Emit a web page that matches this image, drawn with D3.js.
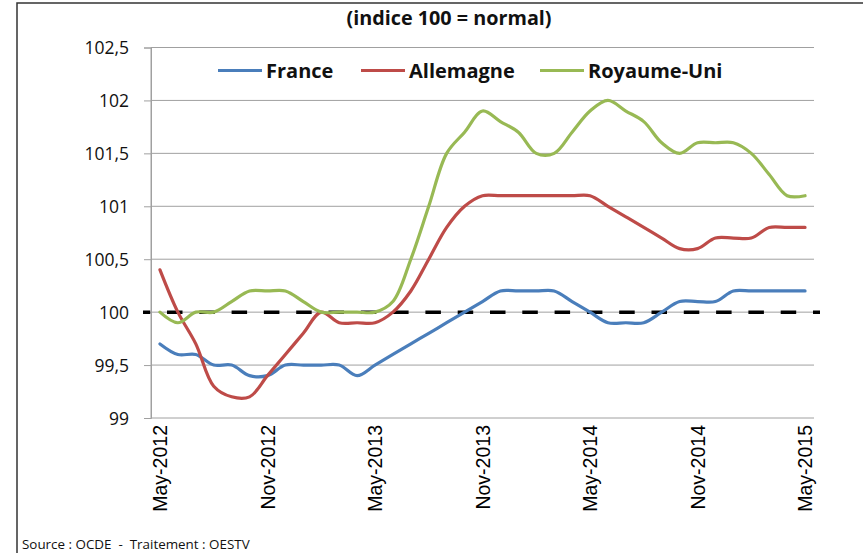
<!DOCTYPE html>
<html><head><meta charset="utf-8">
<script src="https://cdn.jsdelivr.net/npm/d3@7"></script>
<style>html,body{margin:0;padding:0;background:#fff;}svg{display:block;}</style>
</head><body>
<script>
const months = ["May-2012","Jun-2012","Jul-2012","Aug-2012","Sep-2012","Oct-2012","Nov-2012","Dec-2012",
"Jan-2013","Feb-2013","Mar-2013","Apr-2013","May-2013","Jun-2013","Jul-2013","Aug-2013","Sep-2013","Oct-2013",
"Nov-2013","Dec-2013","Jan-2014","Feb-2014","Mar-2014","Apr-2014","May-2014","Jun-2014","Jul-2014","Aug-2014",
"Sep-2014","Oct-2014","Nov-2014","Dec-2014","Jan-2015","Feb-2015","Mar-2015","Apr-2015","May-2015"];
const france = [99.7,99.6,99.6,99.5,99.5,99.4,99.4,99.5,99.5,99.5,99.5,99.4,99.5,99.6,99.7,99.8,99.9,100.0,
100.1,100.2,100.2,100.2,100.2,100.1,100.0,99.9,99.9,99.9,100.0,100.1,100.1,100.1,100.2,100.2,100.2,100.2,100.2];
const allemagne = [100.4,100.0,99.7,99.3,99.2,99.2,99.4,99.6,99.8,100.0,99.9,99.9,99.9,100.0,100.2,100.5,100.8,101.0,
101.1,101.1,101.1,101.1,101.1,101.1,101.1,101.0,100.9,100.8,100.7,100.6,100.6,100.7,100.7,100.7,100.8,100.8,100.8];
const royaumeUni = [100.0,99.9,100.0,100.0,100.1,100.2,100.2,100.2,100.1,100.0,100.0,100.0,100.0,100.1,100.5,101.0,101.5,101.7,
101.9,101.8,101.7,101.5,101.5,101.7,101.9,102.0,101.9,101.8,101.6,101.5,101.6,101.6,101.6,101.5,101.3,101.1,101.1];
const yTicks = [99,99.5,100,100.5,101,101.5,102,102.5];
const xTickLabels = ["May-2012","Nov-2012","May-2013","Nov-2013","May-2014","Nov-2014","May-2015"];
const seriesNames = ["France","Allemagne","Royaume-Uni"];
const seriesColors = ["#4a7ebb","#be4b48","#98b954"];
const reference = 100;

const W = 863, H = 553;
const svg = d3.select("body").append("svg").attr("width", W).attr("height", H);

// frame
svg.append("path").attr("d","M17,553 V3 H863").attr("fill","none").attr("stroke","#333").attr("stroke-width",1.5);

const x = d3.scaleBand().domain(months).range([151, 814]);
const xc = m => x(m) + x.bandwidth()/2;
const y = d3.scaleLinear().domain([99, 102.5]).range([418, 47.5]);

// gridlines + y ticks
const yAxis = d3.axisLeft(y).tickValues(yTicks).tickSize(7)
  .tickFormat(d => String(d).replace(".", ","));
const yg = svg.append("g").attr("transform","translate(151,0)").call(yAxis);
yg.select(".domain").attr("stroke","#a0a0a0");
yg.selectAll(".tick line").attr("stroke","#a0a0a0");
yg.selectAll(".tick text").attr("x",-22).attr("font-family","Open Sans").attr("font-size","17.5px").attr("fill","#111").attr("dy","0.36em");
svg.append("g").selectAll("line").data(yTicks).join("line")
  .attr("x1",151).attr("x2",814).attr("y1",d=>y(d)).attr("y2",d=>y(d))
  .attr("stroke","#a0a0a0").attr("stroke-width",1);
svg.append("line").attr("x1",151).attr("x2",151).attr("y1",47.5).attr("y2",418).attr("stroke","#a0a0a0");

// x labels
const xAxis = d3.axisBottom(x).tickValues(xTickLabels).tickSize(0);
const xg = svg.append("g").attr("transform","translate(0,418)").call(xAxis);
xg.select(".domain").remove();
xg.selectAll(".tick text")
  .attr("font-family","Liberation Sans, Arial").attr("font-size","19.5px").attr("fill","#000")
  .attr("text-anchor","end").attr("transform","rotate(-90)")
  .attr("x",-7).attr("y",0).attr("dy","0.36em");

// dashed reference line
svg.append("line").attr("x1",143).attr("x2",820).attr("y1",y(reference)).attr("y2",y(reference))
  .attr("stroke","#000").attr("stroke-width",3.5).attr("stroke-dasharray","15.5,16.8").attr("stroke-dashoffset",8.3);

// series
const allSeries = [france, allemagne, royaumeUni];
const line = d3.line().x((d,i)=>xc(months[i])).y(d=>y(d)).curve(d3.curveCatmullRom.alpha(0.5));
svg.append("g").selectAll("path").data(allSeries).join("path")
  .attr("d", d=>line(d)).attr("fill","none")
  .attr("stroke",(d,i)=>seriesColors[i]).attr("stroke-width",3.2).attr("stroke-linejoin","round").attr("stroke-linecap","round");

// legend
const legX = [218, 361, 540];
const lg = svg.append("g");
seriesNames.forEach((n,i)=>{
  lg.append("line").attr("x1",legX[i]).attr("x2",legX[i]+44).attr("y1",70.5).attr("y2",70.5)
    .attr("stroke",seriesColors[i]).attr("stroke-width",3);
  lg.append("text").attr("x",legX[i]+48).attr("y",77.5).text(n)
    .attr("font-family","Open Sans").attr("font-weight","bold").attr("font-size","20px").attr("fill","#111");
});

// title
svg.append("text").attr("x",449).attr("y",25).attr("text-anchor","middle")
  .attr("font-family","Open Sans").attr("font-weight","bold").attr("font-size","19.8px").attr("fill","#111")
  .text("(indice 100 = normal)");

// source
svg.append("text").attr("x",22).attr("y",549)
  .attr("font-family","Open Sans").attr("font-size","13.4px").attr("fill","#111")
  .text("Source : OCDE  -  Traitement : OESTV").attr("xml:space","preserve").style("white-space","pre");
</script>
</body></html>
